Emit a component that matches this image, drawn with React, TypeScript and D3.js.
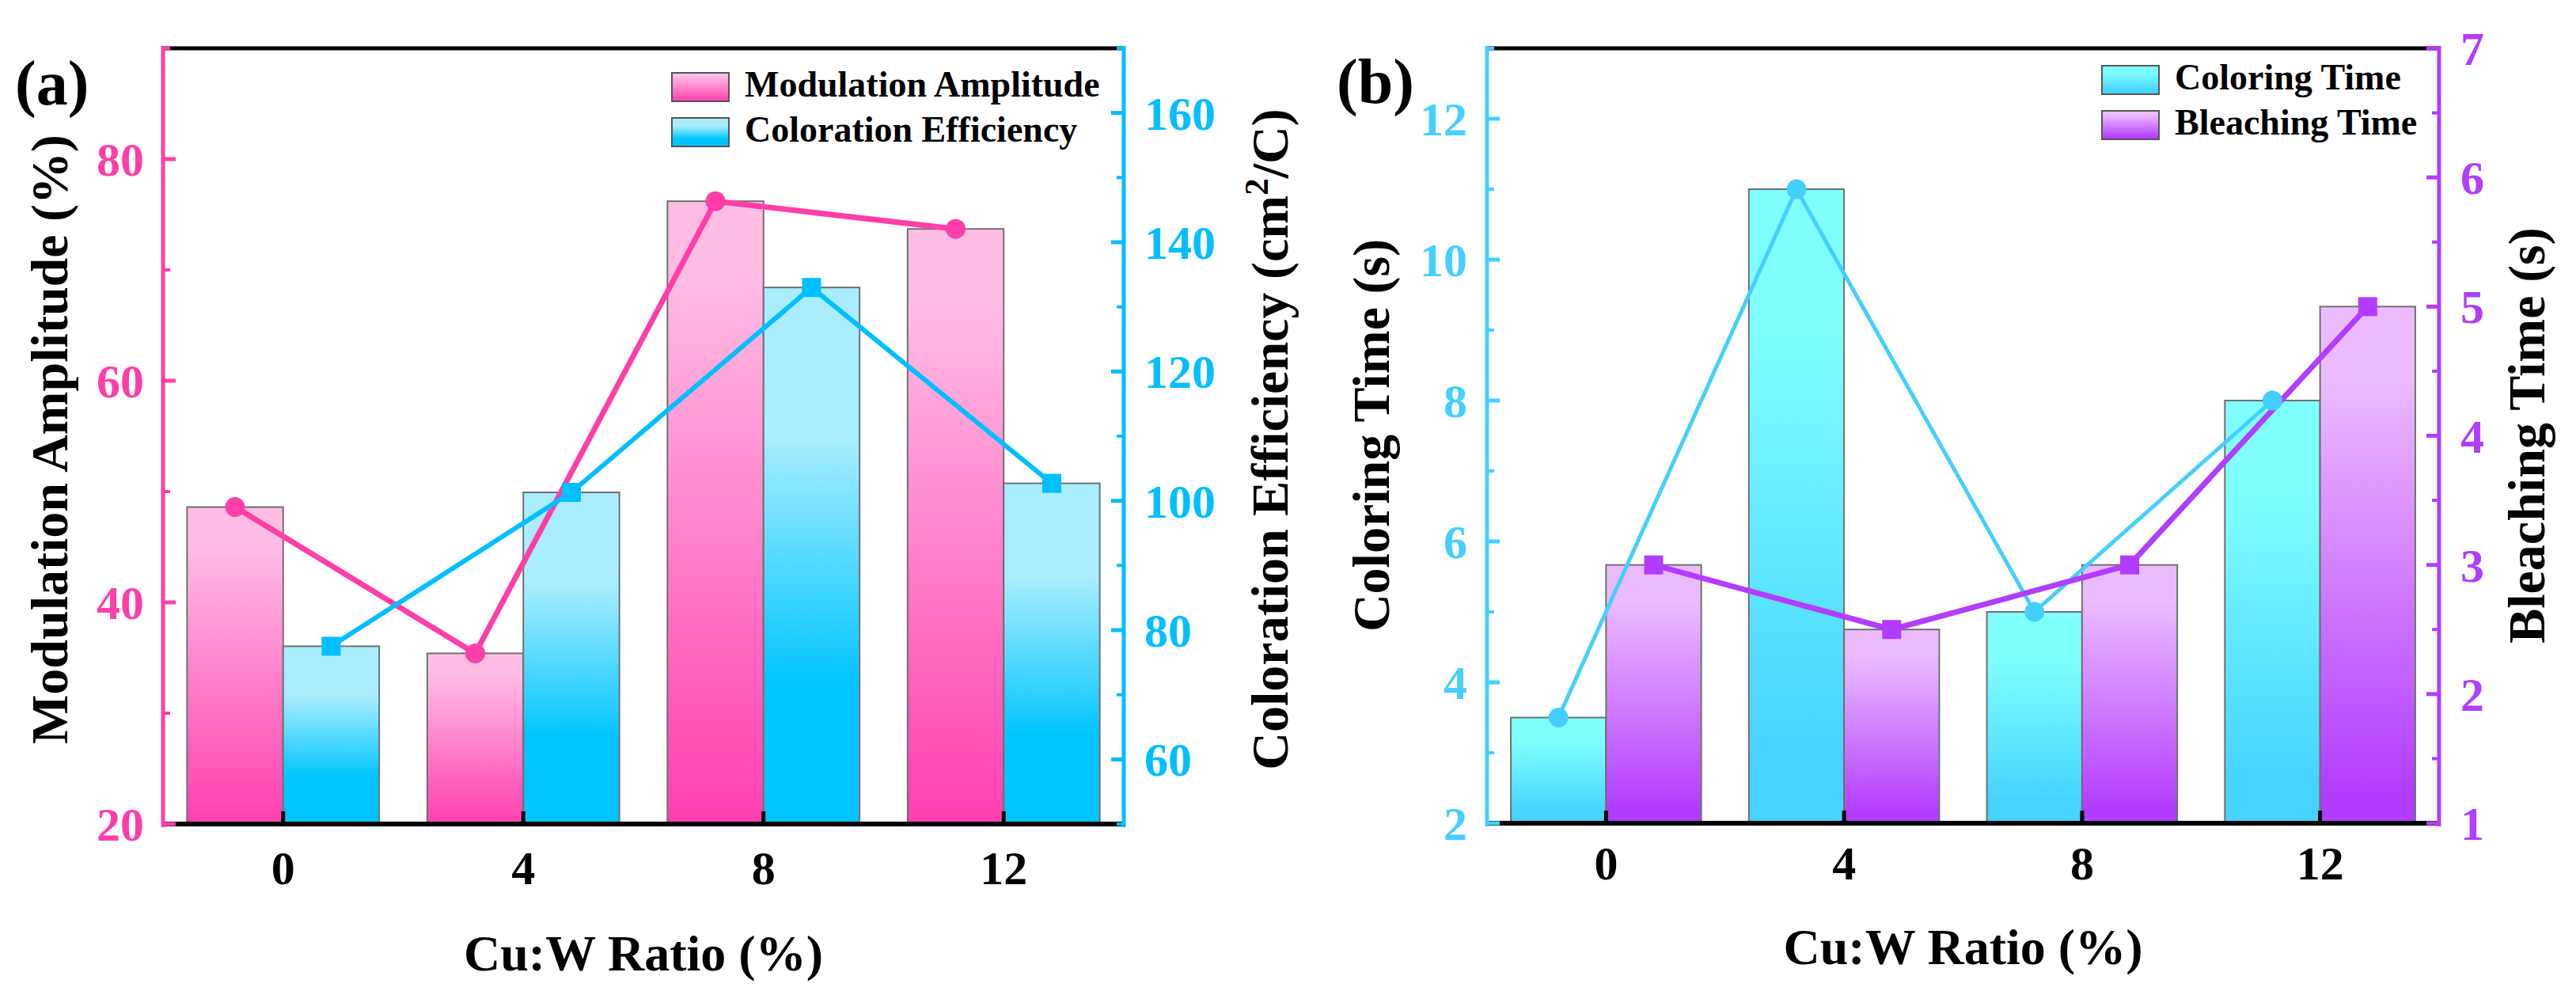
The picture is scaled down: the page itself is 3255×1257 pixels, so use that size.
import React from "react";
import * as d3 from "d3";

// ---------- data ----------
const categories = [0, 4, 8, 12];
const modulationAmplitude = [48.6, 35.4, 76.2, 73.7];
const colorationEfficiency = [77.5, 101.3, 133.0, 102.7];
const coloringTime = [3.5, 11, 5, 8];
const bleachingTime = [3, 2.5, 3, 5];

const ampTicks = [20, 40, 60, 80];
const ceTicks = [60, 80, 100, 120, 140, 160];
const ctTicks = [2, 4, 6, 8, 10, 12];
const btTicks = [1, 2, 3, 4, 5, 6, 7];

const FONT = "'Liberation Serif', 'Times New Roman', serif";

type Grad = { id: string; top: string; bottom: string; stops: [number, number] };

const grads: Grad[] = [
  { id: "gPink", top: "#FFBDE4", bottom: "#FF3FAF", stops: [0.12, 1.0] },
  { id: "gBlue", top: "#A9EDFF", bottom: "#00C5FF", stops: [0.28, 0.74] },
  { id: "gCyan", top: "#80FFFF", bottom: "#45D3FF", stops: [0.22, 0.9] },
  { id: "gPurple", top: "#ECBBFF", bottom: "#B23CFF", stops: [0.14, 0.95] },
];

type PanelCfg = {
  tag: string;
  x0: number; x1: number; y0: number; y1: number;
  leftDomain: [number, number]; rightDomain: [number, number];
  leftTicks: number[]; rightTicks: number[];
  leftMinorStep: number; rightMinorStep: number;
  leftColor: string; rightColor: string;
  leftLineColor: string; rightLineColor: string;
  leftLineW: number; rightLineW: number;
  leftGrad: string; rightGrad: string;
  leftVals: number[]; rightVals: number[];
  leftName: string; rightName: string;
  leftTitle: React.ReactNode; rightTitle: React.ReactNode;
  leftTitleX: number; rightTitleX: number; titleY: number;
  xTitleY: number; xTickY: number;
  tagX: number; tagY: number;
  legendX: number; legendY: number; legendRowGap: number;
  leftLabelGap: number; rightLabelGap: number;
};

function minorTicks(major: number[], step: number, domain: [number, number]) {
  const out: number[] = [];
  for (let v = domain[0]; v <= domain[1] + 1e-9; v += step) {
    const r = Math.round(v * 1000) / 1000;
    if (!major.some((m) => Math.abs(m - r) < 1e-6)) out.push(r);
  }
  return out;
}

function Panel({ c }: { c: PanelCfg }) {
  const x = d3.scaleLinear().domain([-2, 14]).range([c.x0, c.x1]);
  const yL = d3.scaleLinear().domain(c.leftDomain).range([c.y1, c.y0]);
  const yR = d3.scaleLinear().domain(c.rightDomain).range([c.y1, c.y0]);
  const bw = x(1.6) - x(0);
  const off = 0.8;

  const lineL = d3
    .line<number>()
    .x((_, i) => x(categories[i] - off))
    .y((d) => yL(d));
  const lineR = d3
    .line<number>()
    .x((_, i) => x(categories[i] + off))
    .y((d) => yR(d));

  const majorLen = 16;
  const minorLen = 9;
  const axW = 5;
  const leftMinor = minorTicks(c.leftTicks, c.leftMinorStep, c.leftDomain);
  const rightMinor = minorTicks(c.rightTicks, c.rightMinorStep, c.rightDomain);

  return (
    <g>
      {/* bars */}
      {categories.map((cat, i) => (
        <g key={"b" + cat}>
          <rect
            x={x(cat - 1.6)}
            y={yL(c.leftVals[i])}
            width={bw}
            height={c.y1 - yL(c.leftVals[i])}
            fill={`url(#${c.leftGrad})`}
            stroke="#707070"
            strokeWidth={2}
          />
          <rect
            x={x(cat)}
            y={yR(c.rightVals[i])}
            width={bw}
            height={c.y1 - yR(c.rightVals[i])}
            fill={`url(#${c.rightGrad})`}
            stroke="#707070"
            strokeWidth={2}
          />
        </g>
      ))}

      {/* lines */}
      <path d={lineL(c.leftVals) || ""} fill="none" stroke={c.leftLineColor} strokeWidth={c.leftLineW} strokeLinejoin="round" />
      <path d={lineR(c.rightVals) || ""} fill="none" stroke={c.rightLineColor} strokeWidth={c.rightLineW} strokeLinejoin="round" />
      {c.leftVals.map((v, i) => (
        <circle key={"m1" + i} cx={x(categories[i] - off)} cy={yL(v)} r={12.5} fill={c.leftLineColor} />
      ))}
      {c.rightVals.map((v, i) => (
        <rect key={"m2" + i} x={x(categories[i] + off) - 12} y={yR(v) - 12} width={24} height={24} fill={c.rightLineColor} />
      ))}

      {/* frame lines */}
      <line x1={c.x0} x2={c.x1} y1={c.y0} y2={c.y0} stroke="#000" strokeWidth={axW} />
      <line x1={c.x0} x2={c.x1} y1={c.y1} y2={c.y1} stroke="#000" strokeWidth={axW + 1} />

      {/* x ticks */}
      {categories.map((cat) => (
        <g key={"xt" + cat}>
          <line x1={x(cat)} x2={x(cat)} y1={c.y1} y2={c.y1 - 16} stroke="#000" strokeWidth={5} />
          <text x={x(cat)} y={c.xTickY} textAnchor="middle" fontFamily={FONT} fontWeight="bold" fontSize={60} fill="#000">
            {cat}
          </text>
        </g>
      ))}

      {/* left axis */}
      <line x1={c.x0} x2={c.x0} y1={c.y0 - 3} y2={c.y1 + 4} stroke={c.leftColor} strokeWidth={axW} />
      {c.leftTicks.map((t) => (
        <g key={"lt" + t}>
          <line x1={c.x0} x2={c.x0 + majorLen} y1={yL(t)} y2={yL(t)} stroke={c.leftColor} strokeWidth={5} />
          <text x={c.x0 - c.leftLabelGap} y={yL(t) + 21} textAnchor="end" fontFamily={FONT} fontWeight="bold" fontSize={60} fill={c.leftColor}>
            {t}
          </text>
        </g>
      ))}
      {leftMinor.map((t) => (
        <line key={"lm" + t} x1={c.x0} x2={c.x0 + minorLen} y1={yL(t)} y2={yL(t)} stroke={c.leftColor} strokeWidth={4} />
      ))}

      {/* right axis */}
      <line x1={c.x1} x2={c.x1} y1={c.y0 - 3} y2={c.y1 + 4} stroke={c.rightColor} strokeWidth={axW} />
      {c.rightTicks.map((t) => (
        <g key={"rt" + t}>
          <line x1={c.x1} x2={c.x1 - majorLen} y1={yR(t)} y2={yR(t)} stroke={c.rightColor} strokeWidth={5} />
          <text x={c.x1 + c.rightLabelGap} y={yR(t) + 21} textAnchor="start" fontFamily={FONT} fontWeight="bold" fontSize={60} fill={c.rightColor}>
            {t}
          </text>
        </g>
      ))}
      {rightMinor.map((t) => (
        <line key={"rm" + t} x1={c.x1} x2={c.x1 - minorLen} y1={yR(t)} y2={yR(t)} stroke={c.rightColor} strokeWidth={4} />
      ))}

      {/* titles */}
      <text
        transform={`translate(${c.leftTitleX},${c.titleY}) rotate(-90)`}
        textAnchor="middle"
        fontFamily={FONT}
        fontWeight="bold"
        fontSize={66}
        fill="#000"
      >
        {c.leftTitle}
      </text>
      <text
        transform={`translate(${c.rightTitleX},${c.titleY}) rotate(-90)`}
        textAnchor="middle"
        fontFamily={FONT}
        fontWeight="bold"
        fontSize={66}
        fill="#000"
      >
        {c.rightTitle}
      </text>
      <text x={(c.x0 + c.x1) / 2} y={c.xTitleY} textAnchor="middle" fontFamily={FONT} fontWeight="bold" fontSize={64} fill="#000">
        Cu:W Ratio (%)
      </text>
      <text x={c.tagX} y={c.tagY} fontFamily={FONT} fontWeight="bold" fontSize={80} fill="#000">
        {c.tag}
      </text>

      {/* legend */}
      {[
        { name: c.leftName, g: c.leftGrad },
        { name: c.rightName, g: c.rightGrad },
      ].map((it, i) => (
        <g key={"lg" + i} transform={`translate(${c.legendX},${c.legendY + i * c.legendRowGap})`}>
          <rect x={0} y={0} width={72} height={36} fill={`url(#${it.g})`} stroke="#555" strokeWidth={2} />
          <text x={92} y={30} fontFamily={FONT} fontWeight="bold" fontSize={46} fill="#000">
            {it.name}
          </text>
        </g>
      ))}
    </g>
  );
}

const panelA: PanelCfg = {
  tag: "(a)",
  x0: 206, x1: 1420, y0: 61, y1: 1041,
  leftDomain: [20, 90], rightDomain: [50, 170],
  leftTicks: ampTicks, rightTicks: ceTicks,
  leftMinorStep: 10, rightMinorStep: 10,
  leftColor: "#FF3EA8", rightColor: "#00BFFF",
  leftLineColor: "#FF3EA8", rightLineColor: "#00BFFF",
  leftLineW: 7, rightLineW: 6,
  leftGrad: "gPink", rightGrad: "gBlue",
  leftVals: modulationAmplitude, rightVals: colorationEfficiency,
  leftName: "Modulation Amplitude", rightName: "Coloration Efficiency",
  leftTitle: "Modulation Amplitude (%)",
  rightTitle: (
    <>
      Coloration Efficiency (cm
      <tspan dy={-25} fontSize={43}>2</tspan>
      <tspan dy={25}>/C)</tspan>
    </>
  ),
  leftTitleX: 85, rightTitleX: 1627, titleY: 555,
  xTitleY: 1226, xTickY: 1117,
  tagX: 19, tagY: 132,
  legendX: 849, legendY: 92, legendRowGap: 57,
  leftLabelGap: 24, rightLabelGap: 26,
};

const panelB: PanelCfg = {
  tag: "(b)",
  x0: 1879, x1: 3082, y0: 61, y1: 1040,
  leftDomain: [2, 13], rightDomain: [1, 7],
  leftTicks: ctTicks, rightTicks: btTicks,
  leftMinorStep: 1, rightMinorStep: 0.5,
  leftColor: "#45CFFF", rightColor: "#B23CFF",
  leftLineColor: "#45CFFF", rightLineColor: "#B23CFF",
  leftLineW: 5, rightLineW: 7,
  leftGrad: "gCyan", rightGrad: "gPurple",
  leftVals: coloringTime, rightVals: bleachingTime,
  leftName: "Coloring Time", rightName: "Bleaching Time",
  leftTitle: "Coloring Time (s)",
  rightTitle: "Bleaching Time (s)",
  leftTitleX: 1755, rightTitleX: 3215, titleY: 550,
  xTitleY: 1218, xTickY: 1111,
  tagX: 1689, tagY: 130,
  legendX: 2656, legendY: 83, legendRowGap: 57,
  leftLabelGap: 25, rightLabelGap: 27,
};

export default function App() {
  return (
    <svg
      width={3255}
      height={1257}
      viewBox="0 0 3255 1257"
      style={{ position: "absolute", left: 0, top: 0, background: "#fff" }}
    >
      <defs>
        {grads.map((g) => (
          <linearGradient key={g.id} id={g.id} x1="0" y1="0" x2="0" y2="1">
            <stop offset={0} stopColor={g.top} />
            <stop offset={g.stops[0]} stopColor={g.top} />
            <stop offset={g.stops[1]} stopColor={g.bottom} />
            <stop offset={1} stopColor={g.bottom} />
          </linearGradient>
        ))}
      </defs>
      <rect x={0} y={0} width={3255} height={1257} fill="#fff" />
      <Panel c={panelA} />
      <Panel c={panelB} />
    </svg>
  );
}
